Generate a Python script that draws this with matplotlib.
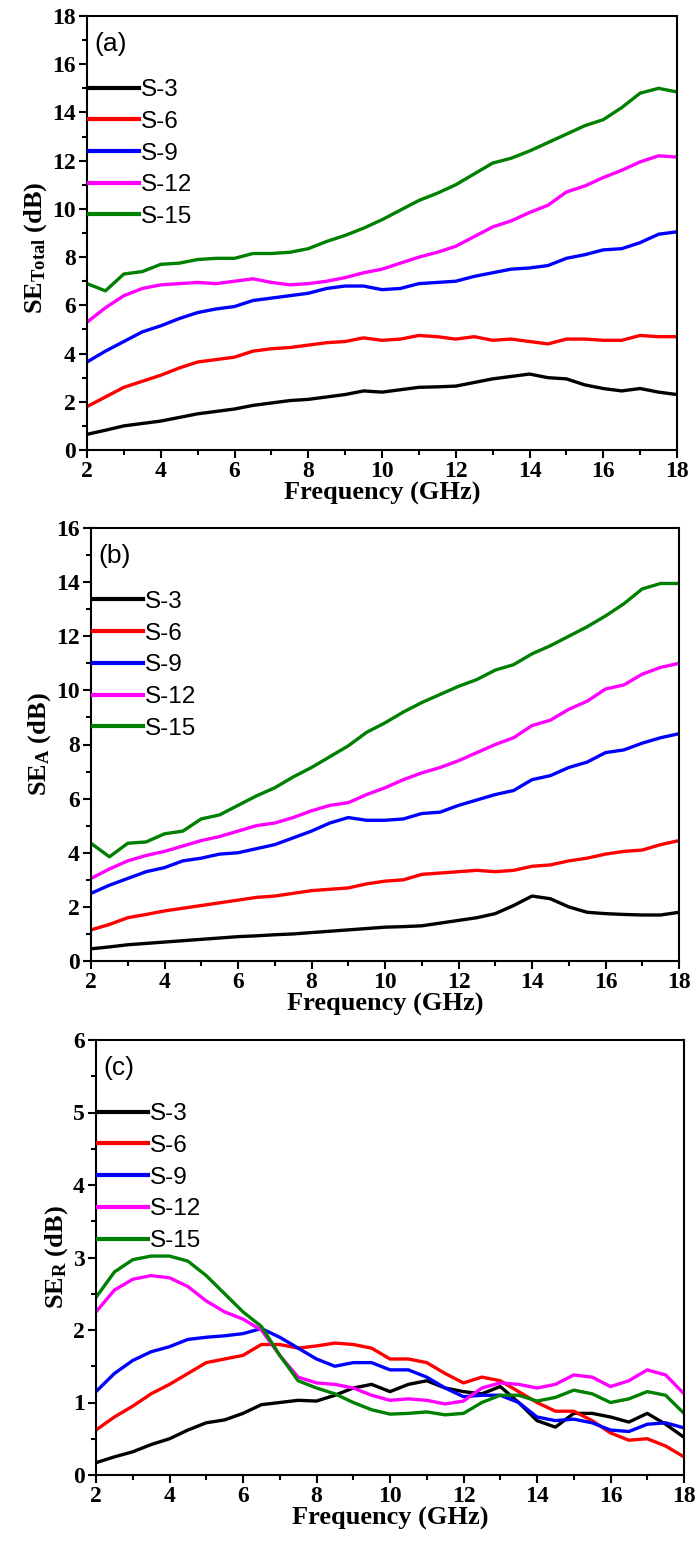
import matplotlib
matplotlib.use("Agg")
import matplotlib.pyplot as plt
from matplotlib.ticker import MultipleLocator

plt.rcParams['mathtext.fontset'] = 'custom'
plt.rcParams['mathtext.rm'] = 'Liberation Serif:bold'
plt.rcParams['mathtext.bf'] = 'Liberation Serif:bold'
plt.rcParams['mathtext.it'] = 'Liberation Serif:bold'

freq = [2.0, 2.5, 3.0, 3.5, 4.0, 4.5, 5.0, 5.5, 6.0, 6.5, 7.0, 7.5, 8.0, 8.5, 9.0, 9.5,
        10.0, 10.5, 11.0, 11.5, 12.0, 12.5, 13.0, 13.5, 14.0, 14.5, 15.0, 15.5, 16.0,
        16.5, 17.0, 17.5, 18.0]
samples = ["S-3", "S-6", "S-9", "S-12", "S-15"]
colors = ["#000000", "#FF0000", "#0000FF", "#FF00FF", "#008000"]

# (a) SE_Total
total_s3 = [0.65, 0.82, 1.0, 1.1, 1.2, 1.35, 1.5, 1.6, 1.7, 1.85, 1.95, 2.05, 2.1, 2.2, 2.3, 2.45,
            2.4, 2.5, 2.6, 2.62, 2.65, 2.8, 2.95, 3.05, 3.15, 3.0, 2.95, 2.7, 2.55, 2.45, 2.55, 2.4, 2.3]
total_s6 = [1.8, 2.2, 2.6, 2.85, 3.1, 3.4, 3.65, 3.75, 3.85, 4.1, 4.2, 4.25, 4.35, 4.45, 4.5, 4.65,
            4.55, 4.6, 4.75, 4.7, 4.6, 4.7, 4.55, 4.6, 4.5, 4.4, 4.6, 4.6, 4.55, 4.55, 4.75, 4.7, 4.7]
total_s9 = [3.65, 4.1, 4.5, 4.9, 5.15, 5.45, 5.7, 5.85, 5.95, 6.2, 6.3, 6.4, 6.5, 6.7, 6.8, 6.8,
            6.65, 6.7, 6.9, 6.95, 7.0, 7.2, 7.35, 7.5, 7.55, 7.65, 7.95, 8.1, 8.3, 8.35, 8.6, 8.95, 9.05]
total_s12 = [5.3, 5.9, 6.4, 6.7, 6.85, 6.9, 6.95, 6.9, 7.0, 7.1, 6.95, 6.85, 6.9, 7.0, 7.15, 7.35,
             7.5, 7.75, 8.0, 8.2, 8.45, 8.85, 9.25, 9.5, 9.85, 10.15, 10.7, 10.95, 11.3, 11.6, 11.95, 12.2, 12.15]
total_s15 = [6.9, 6.6, 7.3, 7.4, 7.7, 7.75, 7.9, 7.95, 7.95, 8.15, 8.15, 8.2, 8.35, 8.65, 8.9, 9.2,
             9.55, 9.95, 10.35, 10.65, 11.0, 11.45, 11.9, 12.1, 12.4, 12.75, 13.1, 13.45, 13.7, 14.2, 14.8, 15.0, 14.85]

# (b) SE_A
abs_s3 = [0.45, 0.52, 0.6, 0.65, 0.7, 0.75, 0.8, 0.85, 0.9, 0.93, 0.97, 1.0, 1.05, 1.1, 1.15, 1.2,
          1.25, 1.27, 1.3, 1.4, 1.5, 1.6, 1.75, 2.05, 2.4, 2.3, 2.0, 1.8, 1.75, 1.72, 1.7, 1.7, 1.8]
abs_s6 = [1.15, 1.35, 1.6, 1.72, 1.85, 1.95, 2.05, 2.15, 2.25, 2.35, 2.4, 2.5, 2.6, 2.65, 2.7, 2.85,
          2.95, 3.0, 3.2, 3.25, 3.3, 3.35, 3.3, 3.35, 3.5, 3.55, 3.7, 3.8, 3.95, 4.05, 4.1, 4.3, 4.45]
abs_s9 = [2.5, 2.8, 3.05, 3.3, 3.45, 3.7, 3.8, 3.95, 4.0, 4.15, 4.3, 4.55, 4.8, 5.1, 5.3, 5.2,
          5.2, 5.25, 5.45, 5.5, 5.75, 5.95, 6.15, 6.3, 6.7, 6.85, 7.15, 7.35, 7.7, 7.8, 8.05, 8.25, 8.4]
abs_s12 = [3.05, 3.4, 3.7, 3.9, 4.05, 4.25, 4.45, 4.6, 4.8, 5.0, 5.1, 5.3, 5.55, 5.75, 5.85, 6.15,
           6.4, 6.7, 6.95, 7.15, 7.4, 7.7, 8.0, 8.25, 8.7, 8.9, 9.3, 9.6, 10.05, 10.2, 10.6, 10.85, 11.0]
abs_s15 = [4.35, 3.85, 4.35, 4.4, 4.7, 4.8, 5.25, 5.4, 5.75, 6.1, 6.4, 6.8, 7.15, 7.55, 7.95, 8.45,
           8.8, 9.2, 9.55, 9.85, 10.15, 10.4, 10.75, 10.95, 11.35, 11.65, 12.0, 12.35, 12.75, 13.2, 13.75, 13.95, 13.95]

# (c) SE_R
ref_s3 = [0.17, 0.25, 0.32, 0.42, 0.5, 0.62, 0.72, 0.76, 0.85, 0.97, 1.0, 1.03, 1.02, 1.1, 1.2, 1.25,
          1.15, 1.25, 1.3, 1.2, 1.15, 1.12, 1.22, 1.0, 0.75, 0.66, 0.85, 0.85, 0.8, 0.73, 0.85, 0.7, 0.52]
ref_s6 = [0.62, 0.8, 0.95, 1.12, 1.25, 1.4, 1.55, 1.6, 1.65, 1.8, 1.8, 1.75, 1.78, 1.82, 1.8, 1.75,
          1.6, 1.6, 1.55, 1.4, 1.27, 1.35, 1.3, 1.15, 1.0, 0.88, 0.88, 0.75, 0.58, 0.48, 0.5, 0.4, 0.25]
ref_s9 = [1.15, 1.4, 1.58, 1.7, 1.77, 1.87, 1.9, 1.92, 1.95, 2.02, 1.9, 1.75, 1.6, 1.5, 1.55, 1.55,
          1.45, 1.45, 1.35, 1.2, 1.08, 1.1, 1.1, 1.0, 0.8, 0.75, 0.77, 0.72, 0.62, 0.6, 0.7, 0.72, 0.65]
ref_s12 = [2.25, 2.55, 2.7, 2.75, 2.72, 2.6, 2.4, 2.25, 2.15, 2.0, 1.65, 1.35, 1.27, 1.25, 1.2, 1.1,
           1.03, 1.05, 1.03, 0.98, 1.02, 1.2, 1.27, 1.25, 1.2, 1.25, 1.38, 1.35, 1.22, 1.3, 1.45, 1.38, 1.12]
ref_s15 = [2.45, 2.8, 2.97, 3.02, 3.02, 2.95, 2.75, 2.5, 2.25, 2.05, 1.65, 1.3, 1.2, 1.12, 1.0, 0.9,
           0.84, 0.85, 0.87, 0.83, 0.85, 1.0, 1.1, 1.1, 1.02, 1.07, 1.17, 1.12, 1.0, 1.05, 1.15, 1.1, 0.85]

panels = [
    ("(a)", r"SE$_{\mathregular{Total}}$ (dB)", [total_s3, total_s6, total_s9, total_s12, total_s15], 18, 2, 1, 0.465),
    ("(b)", r"SE$_{\mathregular{A}}$ (dB)", [abs_s3, abs_s6, abs_s9, abs_s12, abs_s15], 16, 2, 1, 0.5),
    ("(c)", r"SE$_{\mathregular{R}}$ (dB)", [ref_s3, ref_s6, ref_s9, ref_s12, ref_s15], 6, 1, 0.5, 0.5),
]
rects = [
    [87 / 696, 1 - 450 / 1542, 590 / 696, 434 / 1542],
    [91 / 696, 1 - 961 / 1542, 588 / 696, 433 / 1542],
    [96 / 696, 1 - 1475 / 1542, 588 / 696, 435 / 1542],
]

fig = plt.figure(figsize=(6.96, 15.42), dpi=100)
serif_bold = dict(family="Liberation Serif", weight="bold")

for (tag, ylab, series, ymax, ymaj, ymin, ylab_y), rect in zip(panels, rects):
    ax = fig.add_axes(rect)
    for name, col, vals in zip(samples, colors, series):
        ax.plot(freq, vals, color=col, lw=2.4, label=name)
    ax.set_xlim(2, 18)
    ax.set_ylim(0, ymax)
    ax.xaxis.set_major_locator(MultipleLocator(2))
    ax.xaxis.set_minor_locator(MultipleLocator(1))
    ax.yaxis.set_major_locator(MultipleLocator(ymaj))
    ax.yaxis.set_minor_locator(MultipleLocator(ymin))
    ax.tick_params(which="both", direction="out", top=False, right=False, width=1.5)
    ax.tick_params(which="major", length=6, pad=2)
    ax.tick_params(which="minor", length=3.5)
    for sp in ax.spines.values():
        sp.set_linewidth(1.5)
    for lbl in ax.get_xticklabels() + ax.get_yticklabels():
        lbl.set_fontfamily("Liberation Serif")
        lbl.set_fontweight("bold")
        lbl.set_fontsize(17)
    ax.set_xlabel("Frequency (GHz)", fontsize=19, labelpad=0, **serif_bold)
    ax.set_ylabel(ylab, fontsize=19, labelpad=2, **serif_bold)
    ax.yaxis.label.set_y(ylab_y)
    ax.text(0.012, 0.935, tag, transform=ax.transAxes, fontsize=19,
            family="Liberation Sans", va="center", ha="left")
    leg = ax.legend(loc="upper left", bbox_to_anchor=(-0.005, 0.866), frameon=False,
                    prop=dict(family="Liberation Sans", size=17.5),
                    handlelength=2.05, handletextpad=0.1, labelspacing=0.4,
                    borderaxespad=0.0, borderpad=0.2)
    for h in leg.get_lines():
        h.set_linewidth(3)

fig.savefig("out.png", dpi=100)
